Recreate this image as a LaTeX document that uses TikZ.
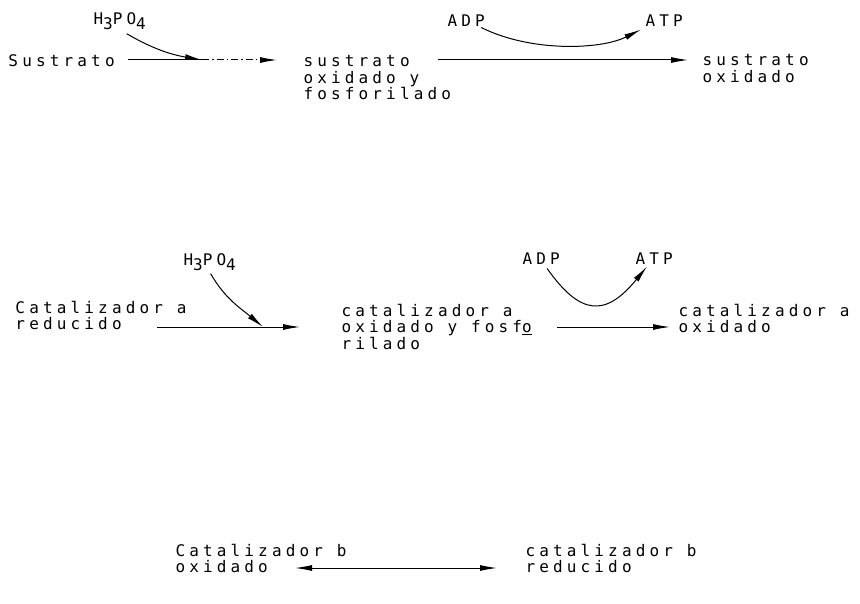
\documentclass[tikz,border=0pt]{standalone}
\usepackage{fontspec}
\usetikzlibrary{arrows.meta}
\newfontfamily\maquina[LetterSpace=26]{DejaVu Sans Mono}
\newcommand{\fosfato}{H\raisebox{-5pt}{3}PO\raisebox{-5pt}{4}}

\begin{document}
\begin{tikzpicture}[x=1pt, y=-1pt, line width=1pt,
    every node/.style={font=\maquina\fontsize{16pt}{16.5pt}\selectfont,
      inner sep=0pt, align=left, anchor=base west},
    flecha/.style={-{Latex[length=17pt,width=6pt]}}]
      \useasboundingbox (0,0) rectangle (860,604);

      % primera reaccion (los nodos de varias lineas van por su ultima linea)
      \node (sus) at (8,67) {Sustrato};
      \node (h1) at (93,25) {\fosfato};
      \node (sox) at (303,100) {sustrato\\oxidado y\\fosforilado};
      \node (adp1) at (447,27) {ADP};
      \node (atp1) at (645,27) {ATP};
      \node (so) at (702,82.5) {sustrato\\oxidado};
      \coordinate (j1) at (202,60);

      \draw (128,60) -- (j1);
      \draw [flecha, dash pattern=on 7pt off 3pt on 1.5pt off 3pt] (j1) -- (277,60);
      \draw [flecha] ([xshift=7pt,yshift=-3pt]h1.south) to [out=-30, in=170] (j1);
      \draw [flecha] (438,60) -- (688,60);
      \draw [flecha] ([xshift=-4pt]adp1.south east) .. controls (530,52) and (600,50) .. ([xshift=-4pt,yshift=-2pt]atp1.south west);

      % segunda reaccion
      \node (cra) at (15,330) {Catalizador a\\reducido};
      \node (h2) at (183,266) {\fosfato};
      \node (cof) at (341,349) {catalizador a\\oxidado y fosf\underline{o}\\rilado};
      \node (adp2) at (522,265) {ADP};
      \node (atp2) at (635,265) {ATP};
      \node (cao) at (678,332.5) {catalizador a\\oxidado};
      \coordinate (j2) at (263,327);

      \draw [flecha] (157,327) -- (300,327);
      \draw [flecha] ([xshift=1pt,yshift=-2pt]h2.south) to [out=-60, in=140] (j2);
      \draw [flecha] (557,327) -- (670,327);
      \draw [flecha] ([xshift=6pt,yshift=-3pt]adp2.south) .. controls (580,315) and (605,318) .. ([xshift=12pt,yshift=-1pt]atp2.south west);

      % tercera reaccion
      \node (cbo) at (175,572.5) {Catalizador b\\oxidado};
      \node (cbr) at (525,572.5) {catalizador b\\reducido};
      \draw [{Latex[length=17pt,width=6pt]}-{Latex[length=17pt,width=6pt]}] (295,568) -- (497,568);
\end{tikzpicture}
\end{document}
